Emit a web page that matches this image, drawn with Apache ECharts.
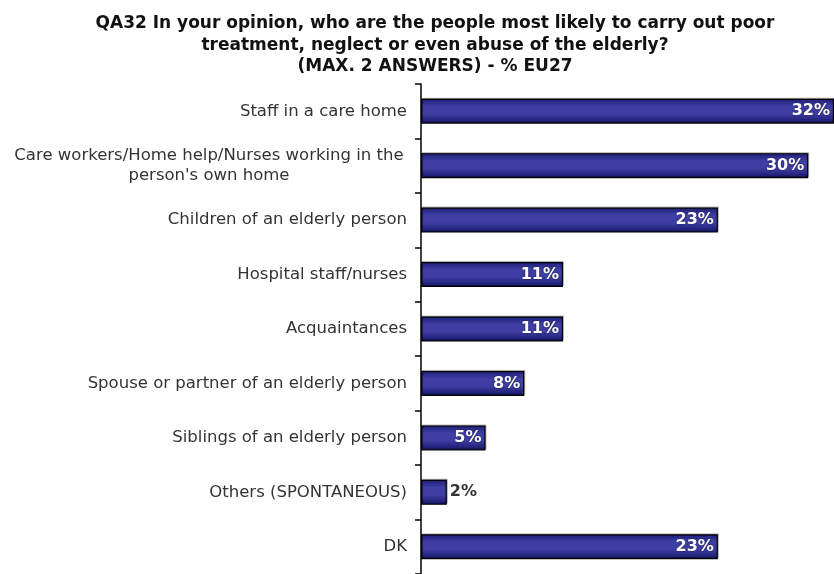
<!DOCTYPE html>
<html>
<head>
<meta charset="utf-8">
<script src="https://cdn.jsdelivr.net/npm/echarts@6/dist/echarts.min.js"></script>
<style>html,body{margin:0;padding:0;background:#fff;}#c{width:834px;height:574px;}</style>
</head>
<body>
<div id="c"></div>
<script>
var titleText = "QA32 In your opinion, who are the people most likely to carry out poor\ntreatment, neglect or even abuse of the elderly?\n(MAX. 2 ANSWERS) - % EU27";
var categories = [
  "Staff in a care home",
  "Care workers/Home help/Nurses working in the\nperson's own home",
  "Children of an elderly person",
  "Hospital staff/nurses",
  "Acquaintances",
  "Spouse or partner of an elderly person",
  "Siblings of an elderly person",
  "Others (SPONTANEOUS)",
  "DK"
];
var values = [32, 30, 23, 11, 11, 8, 5, 2, 23];

var chart = echarts.init(document.getElementById('c'));
var barColor = new echarts.graphic.LinearGradient(0, 0, 0, 1, [
  {offset: 0, color: '#1c1c78'},
  {offset: 0.3, color: '#3e3ea4'},
  {offset: 0.6, color: '#3e3ea4'},
  {offset: 1, color: '#15156a'}
]);
chart.setOption({
  animation: false,
  title: {
    text: titleText,
    left: 430,
    textAlign: 'center',
    top: 8,
    textStyle: {fontFamily: 'DejaVu Sans', fontSize: 17, fontWeight: 'bold', color: '#111', lineHeight: 21.5}
  },
  grid: {left: 421, top: 84, width: 415, height: 495, containLabel: false},
  xAxis: {
    type: 'value', min: 0, max: 32, show: false
  },
  yAxis: {
    type: 'category',
    data: categories,
    inverse: true,
    axisLine: {show: true, lineStyle: {color: '#000', width: 1.5}},
    axisTick: {show: true, length: 6, lineStyle: {color: '#000', width: 1.5}},
    axisLabel: {
      fontFamily: 'DejaVu Sans', fontSize: 16.5, color: '#333', margin: 14,
      formatter: function (v) {
        if (v.indexOf('\n') >= 0) {
          return v.split('\n').map(function (s) { return '{c|' + s + '}'; }).join('\n');
        }
        return v;
      },
      rich: {c: {width: 396, align: 'center', fontFamily: 'DejaVu Sans', fontSize: 16.5, color: '#333', lineHeight: 20}}
    }
  },
  series: [{
    type: 'bar',
    data: values.map(function (v) {
      return {
        value: v,
        label: v < 4 ? {position: 'right', color: '#333', textShadowBlur: 0, distance: 3} : {}
      };
    }),
    barWidth: 25,
    itemStyle: {color: barColor, borderColor: '#000', borderWidth: 1.2, shadowColor: 'rgba(0,0,0,0.25)', shadowOffsetX: 1, shadowOffsetY: -1},
    label: {
      show: true, position: 'insideRight', distance: 4,
      formatter: '{c}%',
      fontFamily: 'DejaVu Sans', fontSize: 16, fontWeight: 'bold', color: '#fff',
      textShadowColor: 'rgba(0,0,0,0.6)', textShadowBlur: 2
    }
  }]
});
</script>
</body>
</html>
